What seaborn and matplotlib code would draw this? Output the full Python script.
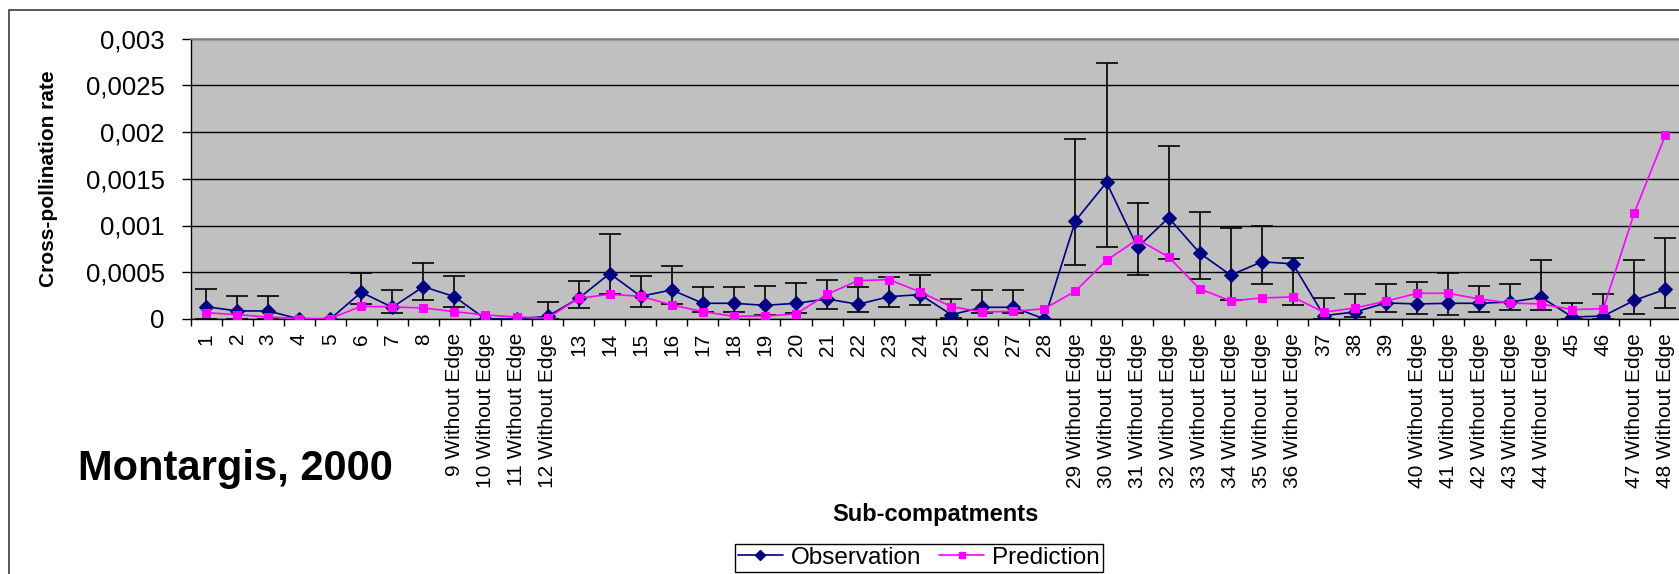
import numpy as np
import pandas as pd
import matplotlib
matplotlib.use("Agg")
import matplotlib.pyplot as plt
from matplotlib.lines import Line2D
from matplotlib.patches import Rectangle
import seaborn as sns

# Sub-compartment names along the x axis
subcompartments = [
    "1", "2", "3", "4", "5", "6", "7", "8",
    "9 Without Edge", "10 Without Edge", "11 Without Edge", "12 Without Edge",
    "13", "14", "15", "16", "17", "18", "19", "20",
    "21", "22", "23", "24", "25", "26", "27", "28",
    "29 Without Edge", "30 Without Edge", "31 Without Edge", "32 Without Edge",
    "33 Without Edge", "34 Without Edge", "35 Without Edge", "36 Without Edge",
    "37", "38", "39",
    "40 Without Edge", "41 Without Edge", "42 Without Edge", "43 Without Edge",
    "44 Without Edge", "45", "46", "47 Without Edge", "48 Without Edge",
]

# Observed cross-pollination rate
observation = [
    1.32e-4, 0.86e-4, 0.86e-4, 0.0, 0.0, 2.86e-4, 1.25e-4, 3.46e-4,
    2.39e-4, 0.0, 0.0, 0.29e-4, 2.21e-4, 4.86e-4, 2.43e-4, 3.11e-4,
    1.68e-4, 1.68e-4, 1.46e-4, 1.68e-4, 2.14e-4, 1.57e-4, 2.39e-4, 2.61e-4,
    0.46e-4, 1.25e-4, 1.25e-4, 0.0, 10.51e-4, 14.61e-4, 7.66e-4, 10.83e-4,
    7.05e-4, 4.69e-4, 6.12e-4, 5.90e-4, 0.36e-4, 0.75e-4, 1.72e-4, 1.61e-4,
    1.68e-4, 1.68e-4, 1.82e-4, 2.32e-4, 0.21e-4, 0.32e-4, 2.00e-4, 3.18e-4,
]

# Lower and upper bounds of the observed rate
obs_low = [
    0.0, 0.0, 0.0, 0.0, 0.0, 1.64e-4, 0.61e-4, 2.04e-4,
    1.25e-4, 0.0, 0.0, 0.0, 1.21e-4, 2.64e-4, 1.32e-4, 1.60e-4,
    0.80e-4, 0.75e-4, 0.43e-4, 0.64e-4, 1.11e-4, 0.75e-4, 1.32e-4, 1.46e-4,
    0.10e-4, 0.61e-4, 0.61e-4, 0.0, 5.74e-4, 7.73e-4, 4.67e-4, 6.38e-4,
    4.33e-4, 2.00e-4, 3.72e-4, 1.47e-4, 0.0, 0.21e-4, 0.79e-4, 0.57e-4,
    0.46e-4, 0.71e-4, 0.96e-4, 0.96e-4, 0.0, 0.0, 0.57e-4, 1.18e-4,
]
obs_high = [
    3.21e-4, 2.50e-4, 2.50e-4, 0.0, 0.0, 4.96e-4, 3.07e-4, 6.04e-4,
    4.57e-4, 0.0, 0.0, 1.79e-4, 4.04e-4, 9.07e-4, 4.57e-4, 5.64e-4,
    3.46e-4, 3.46e-4, 3.57e-4, 3.82e-4, 4.18e-4, 3.46e-4, 4.50e-4, 4.71e-4,
    2.10e-4, 3.06e-4, 3.06e-4, 0.0, 19.20e-4, 27.33e-4, 12.36e-4, 18.49e-4,
    11.41e-4, 9.77e-4, 9.91e-4, 6.51e-4, 2.29e-4, 2.65e-4, 3.72e-4, 3.97e-4,
    4.93e-4, 3.50e-4, 3.79e-4, 6.36e-4, 1.75e-4, 2.71e-4, 6.36e-4, 8.61e-4,
]

# Model prediction
prediction = [
    0.68e-4, 0.46e-4, 0.21e-4, 0.05e-4, 0.05e-4, 1.36e-4, 1.29e-4, 1.18e-4,
    0.79e-4, 0.43e-4, 0.21e-4, 0.10e-4, 2.21e-4, 2.64e-4, 2.43e-4, 1.50e-4,
    0.79e-4, 0.29e-4, 0.32e-4, 0.54e-4, 2.64e-4, 4.11e-4, 4.21e-4, 2.89e-4,
    1.32e-4, 0.75e-4, 0.82e-4, 1.10e-4, 2.99e-4, 6.27e-4, 8.52e-4, 6.63e-4,
    3.22e-4, 1.93e-4, 2.25e-4, 2.36e-4, 0.72e-4, 1.18e-4, 1.90e-4, 2.75e-4,
    2.75e-4, 2.14e-4, 1.71e-4, 1.61e-4, 1.00e-4, 1.11e-4, 11.39e-4, 19.68e-4,
]

y_ticks = [0.0, 0.0005, 0.001, 0.0015, 0.002, 0.0025, 0.003]
y_tick_labels = ["0", "0,0005", "0,001", "0,0015", "0,002", "0,0025", "0,003"]

OBS_COLOR = "#000080"
PRED_COLOR = "#FF00FF"

sns.set_style("white")
plt.rcParams["font.family"] = ["Liberation Sans", "DejaVu Sans"]
plt.rcParams["text.color"] = "black"
plt.rcParams["axes.labelcolor"] = "black"
plt.rcParams["xtick.color"] = "black"
plt.rcParams["ytick.color"] = "black"

W, H = 1679, 574
fig = plt.figure(figsize=(W / 100, H / 100), dpi=100)
fig.patch.set_facecolor("white")

# plot area in pixel units converted to figure fractions
left_px, right_px, top_px, bottom_px = 190.5, 1681.0, 38.5, 319.0
ax = fig.add_axes([left_px / W, 1 - bottom_px / H,
                   (right_px - left_px) / W, (bottom_px - top_px) / H])
ax.set_facecolor("#C0C0C0")

pos = np.arange(len(subcompartments))
df = pd.DataFrame({
    "pos": pos,
    "Observation": observation,
    "Prediction": prediction,
    "low": obs_low,
    "high": obs_high,
})

# confidence bars around the observations
eb = df[df["high"] > df["Observation"]]
ax.errorbar(eb["pos"], eb["Observation"],
            yerr=[eb["Observation"] - eb["low"], eb["high"] - eb["Observation"]],
            fmt="none", ecolor="black", elinewidth=1.2, capsize=8, capthick=1.2,
            zorder=2)

sns.lineplot(data=df, x="pos", y="Observation", ax=ax, sort=False,
             color=OBS_COLOR, marker="D", markersize=7,
             markeredgecolor=OBS_COLOR, markerfacecolor=OBS_COLOR,
             linewidth=1.2, zorder=3, legend=False)
sns.lineplot(data=df, x="pos", y="Prediction", ax=ax, sort=False,
             color=PRED_COLOR, marker="s", markersize=6,
             markeredgecolor=PRED_COLOR, markerfacecolor=PRED_COLOR,
             linewidth=1.2, zorder=4, legend=False)

# axes limits, grid and spines
ax.set_xlim(-0.5, len(subcompartments) - 0.5)
ax.set_ylim(0, 0.003)
ax.yaxis.grid(True, color="black", linewidth=1.0)
ax.xaxis.grid(False)
ax.set_axisbelow(True)
for side in ("left", "bottom"):
    ax.spines[side].set_color("black")
    ax.spines[side].set_linewidth(1.0)
ax.spines["top"].set_color("#8C8C8C")
ax.spines["top"].set_linewidth(1.3)
ax.spines["right"].set_visible(False)

# category labels at centres, tick marks on category boundaries
ax.set_xticks(pos)
ax.set_xticklabels(subcompartments, rotation=90, fontsize=15)
ax.set_xticks(np.arange(len(subcompartments) + 1) - 0.5, minor=True)
ax.tick_params(axis="x", which="major", length=0, pad=10)
ax.tick_params(axis="x", which="minor", length=5, width=1.0,
               direction="out", color="black", bottom=True)

ax.set_yticks(y_ticks)
ax.set_yticklabels(y_tick_labels, fontsize=18.5)
ax.tick_params(axis="y", which="major", length=6.5, width=1.0,
               direction="out", color="black", pad=12, left=True)

ax.set_ylabel("Cross-pollination rate", fontsize=15, fontweight="bold")
ax.yaxis.set_label_coords(-0.089, 0.5)

ax.set_xlabel("Sub-compatments", fontsize=17, fontweight="bold")
ax.xaxis.label.set_va("baseline")
ax.xaxis.set_label_coords(0.5, (bottom_px - 521) / (bottom_px - top_px))

fig.text(235.5 / W, 1 - 480 / H, "Montargis, 2000", fontsize=30,
         fontweight="bold", ha="center", va="baseline")

# legend along the lower edge
handles = [
    Line2D([], [], color=OBS_COLOR, lw=1.2, marker="D", markersize=5,
           markerfacecolor=OBS_COLOR, markeredgecolor=OBS_COLOR),
    Line2D([], [], color=PRED_COLOR, lw=1.2, marker="s", markersize=5,
           markerfacecolor=PRED_COLOR, markeredgecolor=PRED_COLOR),
]
fs_px = 24.0
leg = fig.legend(handles, ["Observation", "Prediction"], ncol=2,
                 loc="upper center",
                 bbox_to_anchor=(919 / W, 1 - 544 / H),
                 fontsize=17.5, frameon=True, fancybox=False, shadow=False,
                 edgecolor="black", framealpha=1.0, borderaxespad=0,
                 handlelength=44 / fs_px, handletextpad=8 / fs_px,
                 columnspacing=18 / fs_px, borderpad=0.12)
leg.get_frame().set_linewidth(1.0)

# outer chart border
fig.add_artist(Rectangle((8.5 / W, -0.1), 1.2, 1 - 10 / H + 0.1,
                         transform=fig.transFigure, fill=False,
                         edgecolor="#3C3C3C", linewidth=1.2, clip_on=False))

fig.savefig("out.png", dpi=100)
